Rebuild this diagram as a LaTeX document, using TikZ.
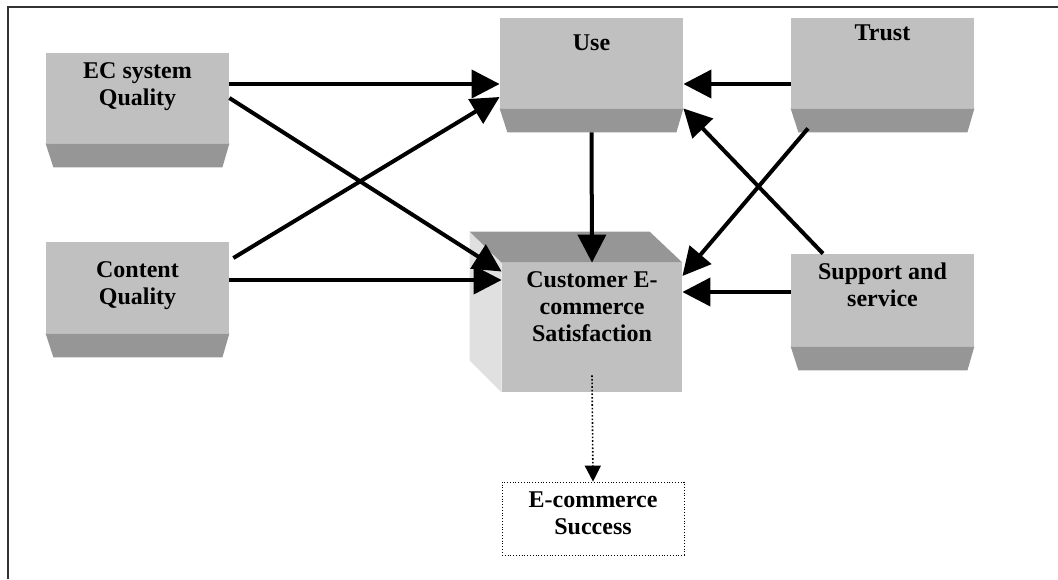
\documentclass[tikz,border=0pt]{standalone}
\usepackage{fontspec}
\setmainfont{Liberation Serif}
\usetikzlibrary{positioning,arrows.meta}
\definecolor{facegray}{RGB}{192,192,192}
\definecolor{basegray}{RGB}{150,150,150}
\definecolor{sidegray}{RGB}{224,224,224}

\begin{document}
\begin{tikzpicture}[
                x=0.5pt, y=-0.5pt,
                box/.style={rectangle,fill=facegray,minimum width=91.5pt,minimum height=45pt,inner sep=0pt},
                txt/.style={align=center,inner sep=0pt,font=\fontsize{12}{13.5}\selectfont\bfseries},
                arr/.style={-{Triangle[length=14pt,width=14pt]},line width=2pt},
                dotarr/.style={-{Triangle[length=8pt,width=8pt]},line width=0.8pt,densely dotted},
            ]

            % Frame
            \useasboundingbox (0,0) rectangle (1058,579);
            \draw[line width=1pt,black!80] (8,579) -- (8,7) -- (1058,7);

            % Define nodes
            \node[box] (ec) at (137.5,98) {};
            \node[box,minimum height=45.5pt] (content) at (137.5,287.5) {};
            \node[box] (use) at (591.5,63) {};
            \node[box] (trust) at (882.5,63) {};
            \node[box,minimum height=46pt] (support) at (882.5,300) {};
            \node[box,minimum width=90pt,minimum height=64.5pt] (ces) at (592,327.5) {};
            \node[rectangle,draw,densely dotted,minimum width=91pt,minimum height=36.5pt,inner sep=0pt] (success) at (593,518.5) {};

            % Box bases and cube faces
            \foreach \n in {ec,content,use,trust,support}
                \fill[basegray] (\n.south west) -- (\n.south east) -- ++(-7,24) -- ++(-169,0) -- cycle;
            \fill[sidegray] (ces.north west) -- ++(-32,-31) -- ++(0,129) -- (ces.south west) -- cycle;
            \fill[basegray] (ces.north west) -- ++(-32,-31) -- ++(180,0) -- (ces.north east) -- cycle;

            % Texts
            \node[txt,below=5pt of ec.north] (ectext) {EC system\\Quality};
            \node[txt,below=10pt of content.north] (contenttext) {Content\\Quality};
            \node[txt,below=8.5pt of use.north] (usetext) {Use};
            \node[txt,below=3.5pt of trust.north] (trusttext) {Trust};
            \node[txt,below=4.5pt of support.north] (supporttext) {Support and\\service};
            \node[txt,below=4.5pt of ces.north] (cestext) {Customer E-\\commerce\\Satisfaction};
            \node[txt,below=5pt of success.north] (successtext) {E-commerce\\Success};

            % Draw connections
            \draw[arr] ([yshift=7pt]ec.east) -- ([yshift=-10.5pt]use.west);
            \draw[arr] (ec.east) -- ([yshift=28pt]ces.west);
            \draw[arr] ([xshift=2pt,yshift=14.75pt]content.east) -- ([yshift=-17pt]use.west);
            \draw[arr] ([yshift=3.75pt]content.east) -- ([yshift=23.75pt]ces.west);
            \draw[arr] ([yshift=-12pt]use.south) -- (ces.north);
            \draw[arr] ([yshift=-10.5pt]trust.west) -- ([yshift=-10.5pt]use.east);
            \draw[arr] ([xshift=-37.25pt,yshift=-10pt]trust.south) -- ([yshift=25.75pt]ces.east);
            \draw[arr] ([xshift=-29.75pt]support.north) -- (use.south east);
            \draw[arr] ([yshift=4pt]support.west) -- ([yshift=17.75pt]ces.east);
            \draw[dotarr] ([yshift=8.5pt]ces.south) -- (success.north);

\end{tikzpicture}
\end{document}
